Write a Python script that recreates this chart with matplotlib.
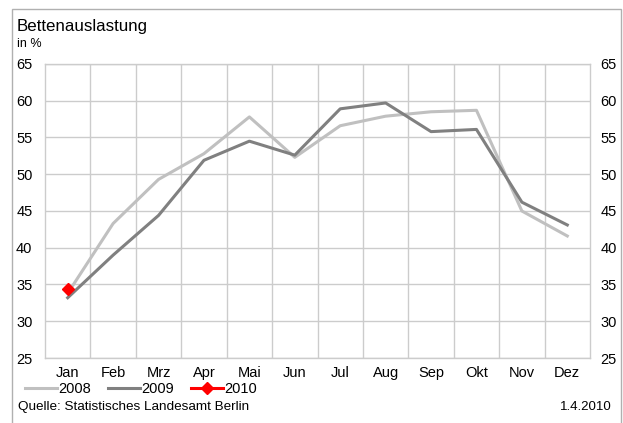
import matplotlib
matplotlib.use('Agg')
from matplotlib import pyplot as plt
from matplotlib.patches import Rectangle

plt.rcParams['font.family'] = ['Liberation Sans', 'DejaVu Sans']

# Monate und Bettenauslastung in %
monate = ['Jan', 'Feb', 'Mrz', 'Apr', 'Mai', 'Jun', 'Jul', 'Aug', 'Sep', 'Okt', 'Nov', 'Dez']
werte_2008 = [33.8, 43.3, 49.3, 52.8, 57.8, 52.3, 56.6, 57.9, 58.5, 58.7, 45.0, 41.6]
werte_2009 = [33.2, 39.0, 44.4, 51.9, 54.5, 52.6, 58.9, 59.7, 55.8, 56.1, 46.2, 43.1]
werte_2010 = [34.4]

fig = plt.figure(figsize=(6.23, 4.23), dpi=100)
W, H = 623, 423
ax = fig.add_axes([45 / W, 1 - 358 / H, 545 / W, 294 / H])

x = list(range(len(monate)))
ax.plot(x, werte_2008, color='#c0c0c0', lw=2.2, label='2008')
ax.plot(x, werte_2009, color='#808080', lw=2.2, label='2009')
ax.plot(x[:len(werte_2010)], werte_2010, color='#ff0000', lw=2.2, marker='D',
        markersize=6.5, label='2010')

ax.set_xlim(-0.5, 11.5)
ax.set_ylim(25, 65)
ax.set_yticks(range(25, 66, 5))
ax.set_xticks(x)
ax.set_xticklabels(monate)
ax.set_xticks([i + 0.5 for i in range(11)], minor=True)
ax.grid(True, axis='y', color='#cccccc', lw=1)
ax.grid(True, axis='x', which='minor', color='#cccccc', lw=1)
ax.set_axisbelow(True)
for s in ax.spines.values():
    s.set_color('#cccccc')
    s.set_linewidth(1)
ax.tick_params(axis='both', which='both', length=0, labelsize=10.5, colors='black')
ax.tick_params(axis='x', pad=6)
ax.tick_params(axis='y', pad=9)

ax2 = ax.twinx()
ax2.set_ylim(25, 65)
ax2.set_yticks(range(25, 66, 5))
ax2.tick_params(axis='y', length=0, labelsize=10.5, pad=7.5)
for s in ax2.spines.values():
    s.set_visible(False)

fig.text(17 / W, 1 - 27 / H, 'Bettenauslastung', fontsize=12.2, va='center')
fig.text(17 / W, 1 - 44 / H, 'in %', fontsize=9, va='center')
fig.text(18 / W, 1 - 407 / H, 'Quelle: Statistisches Landesamt Berlin', fontsize=9.7, va='center')
fig.text(612 / W, 1 - 407 / H, '1.4.2010', fontsize=9.5, va='center', ha='right')

fig.legend(loc='center left', bbox_to_anchor=(25 / W, 1 - 389 / H), ncol=3, frameon=False,
           fontsize=10.5, handlelength=2.2, handletextpad=0.1, columnspacing=1.15,
           borderaxespad=0, borderpad=0)

# Rahmen (oben, links, rechts)
fig.patches.append(Rectangle((12 / W, -0.05), 609 / W, 1.05 - 9 / H, transform=fig.transFigure,
                             fill=False, edgecolor='#b0b0b0', lw=1))

plt.savefig('out.png', dpi=100)
